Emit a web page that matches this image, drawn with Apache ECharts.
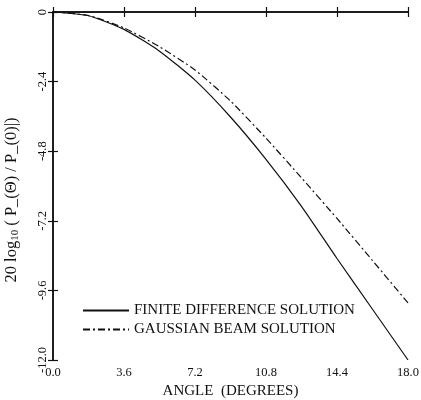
<!DOCTYPE html>
<html>
<head>
<meta charset="utf-8">
<script src="https://cdn.jsdelivr.net/npm/echarts@6/dist/echarts.min.js"></script>
<style>
  html, body { margin: 0; padding: 0; background: #fff; }
  #chart { width: 421px; height: 400px; }
</style>
</head>
<body>
<div id="chart"></div>
<script>
// angle in degrees
const angles = [0, 1.8, 3.6, 5.4, 7.2, 9.0, 10.8, 12.6, 14.4, 16.2, 18.0];
// 20 log10 ratio
const finiteDiff = [0, -0.13, -0.6, -1.35, -2.35, -3.62, -5.08, -6.7, -8.5, -10.25, -12.0];
const gaussBeam = [0, -0.12, -0.55, -1.2, -2.0, -3.07, -4.35, -5.72, -7.12, -8.57, -10.03];

const seriesNames = ['FINITE DIFFERENCE SOLUTION', 'GAUSSIAN BEAM SOLUTION'];

const serif = 'Liberation Serif';
const ink = '#111';

function pairs(ys) {
  return angles.map((a, i) => [a, ys[i]]);
}

const chart = echarts.init(document.getElementById('chart'));

const boxAxis = {
  axisLine: { show: true, lineStyle: { color: ink, width: 1.5 } },
  axisTick: { show: true, inside: true, length: 5, lineStyle: { color: ink, width: 1.2 } },
  splitLine: { show: false }
};

chart.setOption({
  animation: false,
  backgroundColor: '#fff',
  color: [ink, ink],
  grid: { left: 53, right: 13, top: 12, bottom: 40, containLabel: false, outerBoundsMode: 'none' },
  legend: {
    orient: 'vertical',
    left: 77,
    top: 298,
    itemWidth: 46,
    itemHeight: 14,
    itemGap: 4,
    itemStyle: { opacity: 0 },
    data: seriesNames,
    textStyle: { fontFamily: serif, fontSize: 15, color: ink }
  },
  xAxis: [
    Object.assign({
      type: 'value', min: 0, max: 18, interval: 3.6,
      name: 'ANGLE  (DEGREES)', nameLocation: 'middle', nameGap: 24,
      nameTextStyle: { fontFamily: serif, fontSize: 15, color: ink },
      axisLabel: {
        fontFamily: serif, fontSize: 12.5, color: ink, margin: 6,
        formatter: v => v.toFixed(1)
      }
    }, boxAxis),
    Object.assign({
      type: 'value', min: 0, max: 18, interval: 3.6, position: 'top',
      axisLabel: { show: false }
    }, boxAxis)
  ],
  yAxis: [
    Object.assign({
      type: 'value', min: -12, max: 0, interval: 2.4,
      name: '{t|20 log}{s|10}{t| ( P_(Θ) / P_(0)|)}',
      nameLocation: 'middle', nameGap: 33, nameRotate: 90,
      nameTextStyle: {
        padding: [0, 28, 0, 0],
        rich: {
          t: { fontFamily: serif, fontSize: 16.5, color: ink },
          s: { fontFamily: serif, fontSize: 11, color: ink, padding: [0, 0, -8, 0] }
        }
      },
      axisLabel: {
        fontFamily: serif, fontSize: 12.5, color: ink, rotate: 90, margin: 4,
        formatter: v => (v === 0 ? '0' : v.toFixed(1))
      }
    }, boxAxis),
    Object.assign({
      type: 'value', min: -12, max: 0, interval: 2.4, position: 'right',
      axisLabel: { show: false }
    }, boxAxis)
  ],
  series: [
    {
      name: seriesNames[0],
      type: 'line',
      data: pairs(finiteDiff),
      smooth: 0.2,
      symbol: 'none',
      itemStyle: { color: ink },
      lineStyle: { color: ink, width: 1.2, type: 'solid' }
    },
    {
      name: seriesNames[1],
      type: 'line',
      data: pairs(gaussBeam),
      smooth: 0.2,
      symbol: 'none',
      itemStyle: { color: ink },
      lineStyle: { color: ink, width: 1.2, type: [7, 3, 2, 3] }
    }
  ]
});
</script>
</body>
</html>
